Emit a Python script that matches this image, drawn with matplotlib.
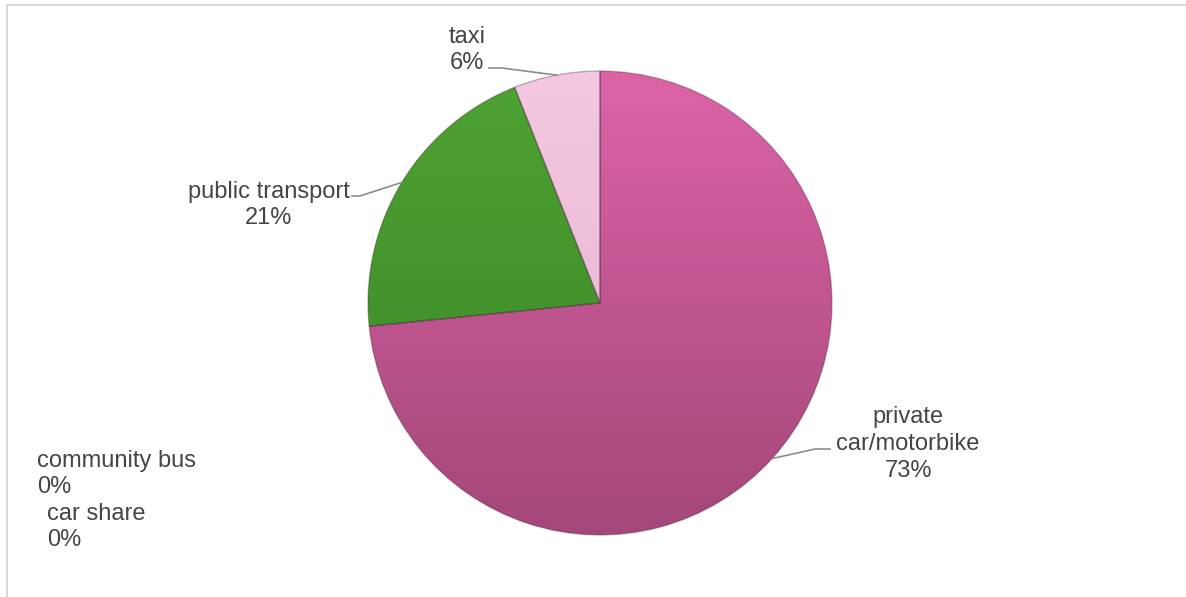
"""Travel mode share pie chart."""
import matplotlib
matplotlib.use("Agg")
import matplotlib.pyplot as plt
import numpy as np
from matplotlib.colors import LinearSegmentedColormap
from matplotlib.patches import Rectangle

plt.rcParams["font.family"] = ["Liberation Sans", "DejaVu Sans"]

# data (clockwise from 12 o'clock)
modes = ["private\ncar/motorbike", "car share", "community bus",
         "public transport", "taxi"]
shares = [73.4, 0.0, 0.0, 20.6, 6.0]

# (top colour, bottom colour) per slice
colors = [("#dc64a6", "#a4477a"), ("#9bbb59", "#7a9a3a"),
          ("#4bacc6", "#3a8aa0"), ("#4da332", "#3b8427"),
          ("#f3c8e0", "#e6b0cf")]

W, H = 1186, 597
CX, CY, R = 600, H - 303, 232
TXT = "#454545"

# label anchors in pixel coords (x, y from top), alignment, leader elbow/end
label_pos = {
    "private\ncar/motorbike": dict(xy=(908, 444), ha="center",
                                   leader=[(815, 449), (830, 449)]),
    "car share": dict(xy=(47, 527), ha="left", leader=None),
    "community bus": dict(xy=(37, 474), ha="left", leader=None),
    "public transport": dict(xy=(269, 205), ha="center",
                             leader=[(360, 196), (352, 196)]),
    "taxi": dict(xy=(467, 50), ha="center",
                 leader=[(502, 68), (489, 68)]),
}

fig = plt.figure(figsize=(W / 100, H / 100), dpi=100)
ax = fig.add_axes([0, 0, 1, 1])
ax.set_xlim(0, W)
ax.set_ylim(0, H)
ax.set_aspect("equal")
ax.axis("off")

# frame of the chart area (runs off right and bottom)
ax.add_patch(Rectangle((7, -10), W + 20, H - 5 + 10, fill=False,
                       ec="#d9d9d9", lw=1.5))

wedges, _ = ax.pie(shares, startangle=90, counterclock=False,
                   center=(CX, CY), radius=R, colors=[c[0] for c in colors],
                   wedgeprops=dict(edgecolor="none"), frame=True)
ax.set_xlim(0, W)
ax.set_ylim(0, H)
ax.axis("off")

grad = np.linspace(0, 1, 256).reshape(-1, 1)
for w, (top, bot), val in zip(wedges, colors, shares):
    if val <= 0:
        continue
    cmap = LinearSegmentedColormap.from_list("g", [top, bot])
    im = ax.imshow(grad, cmap=cmap, aspect="auto", origin="upper",
                   extent=(CX - R, CX + R, CY - R, CY + R), zorder=2)
    im.set_clip_path(w)
    # subtle bevel outline
    w.set_edgecolor((0.2, 0.1, 0.15, 0.3))
    w.set_linewidth(1.0)
    w.set_zorder(3)
    w.set_facecolor("none")

for w, name, val in zip(wedges, modes, shares):
    p = label_pos[name]
    x, y = p["xy"]
    ax.text(x, H - y, f"{name}\n{val:.0f}%", ha=p["ha"], va="center",
            multialignment=p["ha"], fontsize=17, color=TXT, linespacing=1.27,
            zorder=5)
    if p["leader"]:
        mid = np.deg2rad((w.theta1 + w.theta2) / 2)
        ex, ey = CX + R * np.cos(mid), CY + R * np.sin(mid)
        xs = [ex] + [q[0] for q in p["leader"]]
        ys = [ey] + [H - q[1] for q in p["leader"]]
        ax.plot(xs, ys, color="#8c8c8c", lw=1.2, zorder=4)

fig.savefig("out.png", dpi=100)
